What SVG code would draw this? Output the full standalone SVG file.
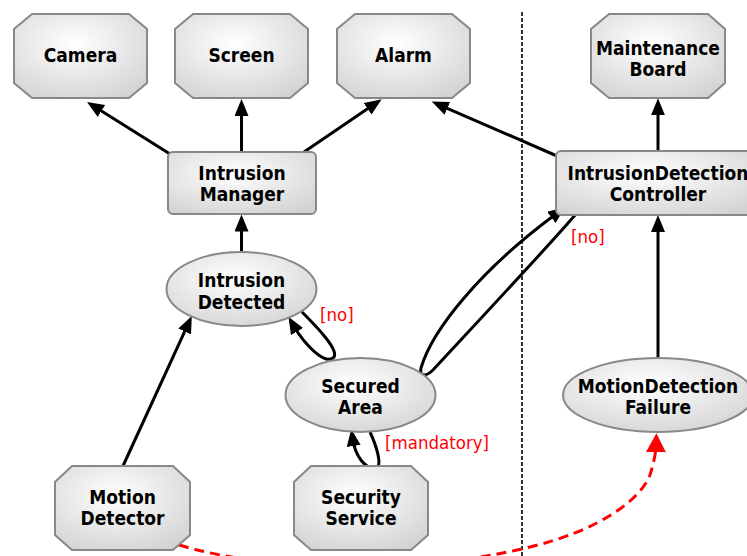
<svg xmlns="http://www.w3.org/2000/svg" width="747" height="556" viewBox="0 0 747 556">
<style>
.node{stroke:#888;stroke-width:2;fill:url(#g)}
.lbl{font-family:"DejaVu Sans Condensed","DejaVu Sans",sans-serif;font-stretch:condensed;font-weight:bold;font-size:19px;fill:#000;text-anchor:middle}
.red{font-family:"DejaVu Sans Condensed","DejaVu Sans",sans-serif;font-stretch:condensed;font-size:18.5px;fill:#f00}
.e{fill:none;stroke:#000;stroke-width:3;marker-end:url(#ah)}
.d{fill:none;stroke:#f00;stroke-width:3;stroke-dasharray:10 6;marker-end:url(#rh)}
</style>
<defs>
<radialGradient id="g" cx="0.45" cy="0.35" r="0.75">
<stop offset="0" stop-color="#ffffff"/>
<stop offset="1" stop-color="#d2d2d2"/>
</radialGradient>
<marker id="ah" markerUnits="userSpaceOnUse" viewBox="0 0 17 14" refX="7" refY="7" markerWidth="17" markerHeight="14" orient="auto">
<path d="M0,0 L17,7 L0,14 z" fill="#000"/>
</marker>
<marker id="rh" markerUnits="userSpaceOnUse" viewBox="0 0 19 20" refX="9" refY="10" markerWidth="19" markerHeight="20" orient="auto">
<path d="M0,0 L19,10 L0,20 z" fill="#f00"/>
</marker>
</defs>
<line x1="522" y1="12" x2="522" y2="556" stroke="#000" stroke-width="1.6" stroke-dasharray="4 2"/>
<g id="connectors">
<path class="e" d="M170,154 L95.5,107.3"/>
<path class="e" d="M241.5,152 L241.5,109"/>
<path class="e" d="M304,152 L373.4,104.8"/>
<path class="e" d="M557,156 L440.9,105.6"/>
<path class="e" d="M658,151 L658,108.3"/>
<path class="e" d="M241.5,252 L241.5,224.5"/>
<path class="e" d="M658,358 L658,225"/>
<path class="e" d="M123,466 L187.6,325.1"/>
<path class="e" d="M302,312 C318,328 341,352 333,358 C325,364 306,347 293.5,325.5"/>
<path class="e" d="M370,432 C376,445 383,466 376,468 C365,470 355,455 352.7,439"/>
<path class="e" d="M576,214 C545,250 470,330 433,370 C427,376 419,378 421,368 C432,330 480,270 557,213.3"/>
<path class="d" d="M179,545 C280,575 430,572 530,547 C600,530 640,500 650,475 C654,462 656,452 656.2,443.3"/>
<text class="red" x="320" y="321">[no]</text>
<text class="red" x="385" y="449">[mandatory]</text>
<text class="red" x="571" y="243">[no]</text>
</g>
<g id="camera"><polygon class="node" points="32,14 129,14 147,29 147,83 129,98 32,98 14,83 14,29"/><text class="lbl" x="80.5" y="62">Camera</text></g>
<g id="screen"><polygon class="node" points="193,14 290,14 308,29 308,83 290,98 193,98 175,83 175,29"/><text class="lbl" x="241.5" y="62">Screen</text></g>
<g id="alarm"><polygon class="node" points="355,14 452,14 470,29 470,83 452,98 355,98 337,83 337,29"/><text class="lbl" x="403.5" y="62">Alarm</text></g>
<g id="maintenance-board"><polygon class="node" points="609,14 708,14 725,29 725,83 708,98 609,98 591,83 591,29"/><text class="lbl" x="658" y="55">Maintenance</text><text class="lbl" x="658" y="76">Board</text></g>
<g id="intrusion-manager"><rect class="node" x="168" y="152" width="148" height="62" rx="5"/><text class="lbl" x="242" y="180">Intrusion</text><text class="lbl" x="242" y="201">Manager</text></g>
<g id="idc"><rect class="node" x="556" y="151" width="204" height="64" rx="5"/><text class="lbl" x="658" y="180">IntrusionDetection</text><text class="lbl" x="658" y="201">Controller</text></g>
<g id="intrusion-detected"><ellipse class="node" cx="241.5" cy="289" rx="75" ry="37"/><text class="lbl" x="241.5" y="287">Intrusion</text><text class="lbl" x="241.5" y="308.5">Detected</text></g>
<g id="secured-area"><ellipse class="node" cx="360.5" cy="395" rx="75" ry="37"/><text class="lbl" x="360.5" y="393">Secured</text><text class="lbl" x="360.5" y="414">Area</text></g>
<g id="motion-detection-failure"><ellipse class="node" cx="658" cy="395" rx="95" ry="37"/><text class="lbl" x="658" y="393">MotionDetection</text><text class="lbl" x="658" y="414">Failure</text></g>
<g id="motion-detector"><polygon class="node" points="72,466 173,466 190,482 190,535 173,550 72,550 55,535 55,482"/><text class="lbl" x="122.5" y="504">Motion</text><text class="lbl" x="122.5" y="525">Detector</text></g>
<g id="security-service"><polygon class="node" points="311,466 411,466 428,482 428,535 411,550 311,550 294,535 294,482"/><text class="lbl" x="361" y="504">Security</text><text class="lbl" x="361" y="525">Service</text></g>
</svg>
